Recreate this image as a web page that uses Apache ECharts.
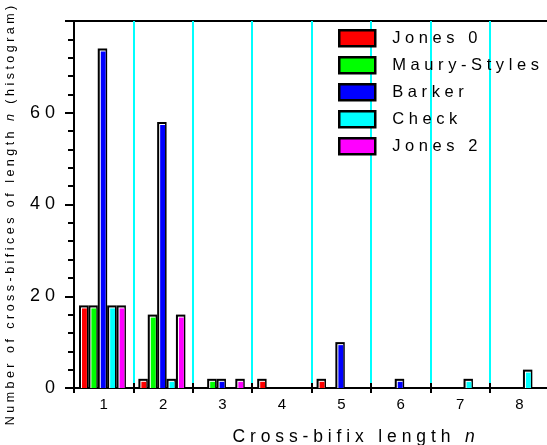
<!DOCTYPE html>
<html>
<head>
<meta charset="utf-8">
<script src="https://cdn.jsdelivr.net/npm/echarts@6/dist/echarts.min.js"></script>
<style>
  html, body { margin: 0; padding: 0; background: #fff; }
  #chart { width: 547px; height: 445px; }
</style>
</head>
<body>
<div id="chart"></div>
<script>
// Cross-bifix length categories
const categories = ['1', '2', '3', '4', '5', '6', '7', '8'];

// Histogram counts per synchronisation-word family
const seriesNames = ['Jones 0', 'Maury-Styles', 'Barker', 'Check', 'Jones 2'];
const jones0      = [18, 2, 0, 2, 2, 0, 0, 0];
const mauryStyles = [18, 16, 2, 0, 0, 0, 0, 0];
const barker      = [74, 58, 2, 0, 10, 2, 0, 0];
const check       = [18, 2, 0, 0, 0, 0, 2, 4];
const jones2      = [18, 16, 2, 0, 0, 0, 0, 0];

const seriesValues = [jones0, mauryStyles, barker, check, jones2];
const seriesColors = ['#ff0000', '#00ff00', '#0000ff', '#00ffff', '#ff00ff'];

const FONT = "'Liberation Sans', Arial, sans-serif";
const spaced = s => s.split('').join(' ');

// Each bar: black frame, white highlight on the left/top edge, coloured fill
function renderBar(params, api) {
  const s = params.seriesIndex;
  const cat = api.value(0);
  const v = api.value(1);
  if (!v) return null;
  const band = api.size([1, 0])[0];
  const base = api.coord([cat, 0]);
  const top = api.coord([cat, v]);
  const slot = band * 0.158;
  const cx = base[0] - band / 2 + band * (0.163 + 0.158 * s);
  const x0 = cx - slot / 2;
  const y0 = top[1];
  const h = base[1] - y0;
  return {
    type: 'group',
    children: [
      { type: 'rect', shape: { x: x0, y: y0, width: slot, height: h }, style: { fill: '#000' } },
      { type: 'rect', shape: { x: x0 + 2, y: y0 + 2, width: slot - 3.5, height: h - 2 }, style: { fill: '#fff' } },
      { type: 'rect', shape: { x: x0 + 3, y: y0 + 3, width: slot - 4.5, height: h - 3 }, style: { fill: api.visual('color') } }
    ]
  };
}

const chart = echarts.init(document.getElementById('chart'), null, { renderer: 'canvas' });

chart.setOption({
  animation: false,
  backgroundColor: '#fff',
  grid: {
    left: 74, right: -2.2, top: 21, bottom: 57,
    containLabel: false,
    outerBoundsMode: 'none',
    show: true, borderColor: '#000', borderWidth: 2, backgroundColor: 'transparent'
  },
  legend: {
    orient: 'vertical',
    left: 338, top: 29,
    padding: 0,
    itemWidth: 36, itemHeight: 16, itemGap: 8.5,
    formatter: name => spaced(name),
    textStyle: { fontFamily: FONT, fontSize: 16.5, color: '#000', padding: [0, 0, 0, 12], lineHeight: 18 },
    data: seriesNames.map((n, i) => ({
      name: n, icon: 'rect',
      itemStyle: { color: seriesColors[i], borderColor: '#000', borderWidth: 2.5 }
    }))
  },
  xAxis: [
    {
      type: 'category',
      data: categories,
      position: 'bottom',
      boundaryGap: true,
      axisLine: { show: true, lineStyle: { color: '#000', width: 2 } },
      axisTick: { show: true, length: 5, lineStyle: { color: '#000', width: 2 } },
      axisLabel: { fontFamily: FONT, fontSize: 15, color: '#000', margin: 9 },
      splitLine: { show: true, lineStyle: { color: '#00ffff', width: 2 } },
      name: '{a|' + spaced('Cross-bifix length') + '   }{i|n}',
      nameLocation: 'middle',
      nameGap: 40,
      nameTextStyle: {
        padding: [0, 0, 0, 84],
        rich: {
          a: { fontFamily: FONT, fontSize: 17.5, color: '#000' },
          i: { fontFamily: FONT, fontSize: 17.5, color: '#000', fontStyle: 'italic' }
        }
      }
    },
    {
      type: 'category',
      data: categories,
      position: 'bottom',
      boundaryGap: true,
      axisLine: { show: false },
      axisTick: { show: true, inside: true, length: 5, lineStyle: { color: '#000', width: 2 } },
      axisLabel: { show: false },
      splitLine: { show: false }
    }
  ],
  yAxis: {
    type: 'value',
    min: 0, max: 80, interval: 20,
    axisLine: { show: true, lineStyle: { color: '#000', width: 2 } },
    axisTick: { show: true, length: 9, lineStyle: { color: '#000', width: 2 } },
    minorTick: { show: true, splitNumber: 5, length: 6, lineStyle: { color: '#000', width: 2 } },
    axisLabel: {
      fontFamily: FONT, fontSize: 18, color: '#000', margin: 19,
      formatter: v => v === 80 ? '' : spaced(String(v))
    },
    splitLine: { show: false },
    name: '{a|' + spaced('Number of cross-bifices of length') + '   }{i|n}{a|   ' + spaced('(histogram)') + '}',
    nameLocation: 'middle',
    nameGap: 57,
    nameTextStyle: {
      padding: [0, 22, 0, 0],
      rich: {
        a: { fontFamily: FONT, fontSize: 12.5, color: '#000' },
        i: { fontFamily: FONT, fontSize: 12.5, color: '#000', fontStyle: 'italic' }
      }
    }
  },
  series: seriesNames.map((n, i) => ({
    name: n,
    type: 'custom',
    xAxisIndex: 0,
    itemStyle: { color: seriesColors[i] },
    encode: { x: 0, y: 1 },
    data: seriesValues[i].map((v, k) => [k, v]),
    renderItem: renderBar
  }))
});
</script>
</body>
</html>
